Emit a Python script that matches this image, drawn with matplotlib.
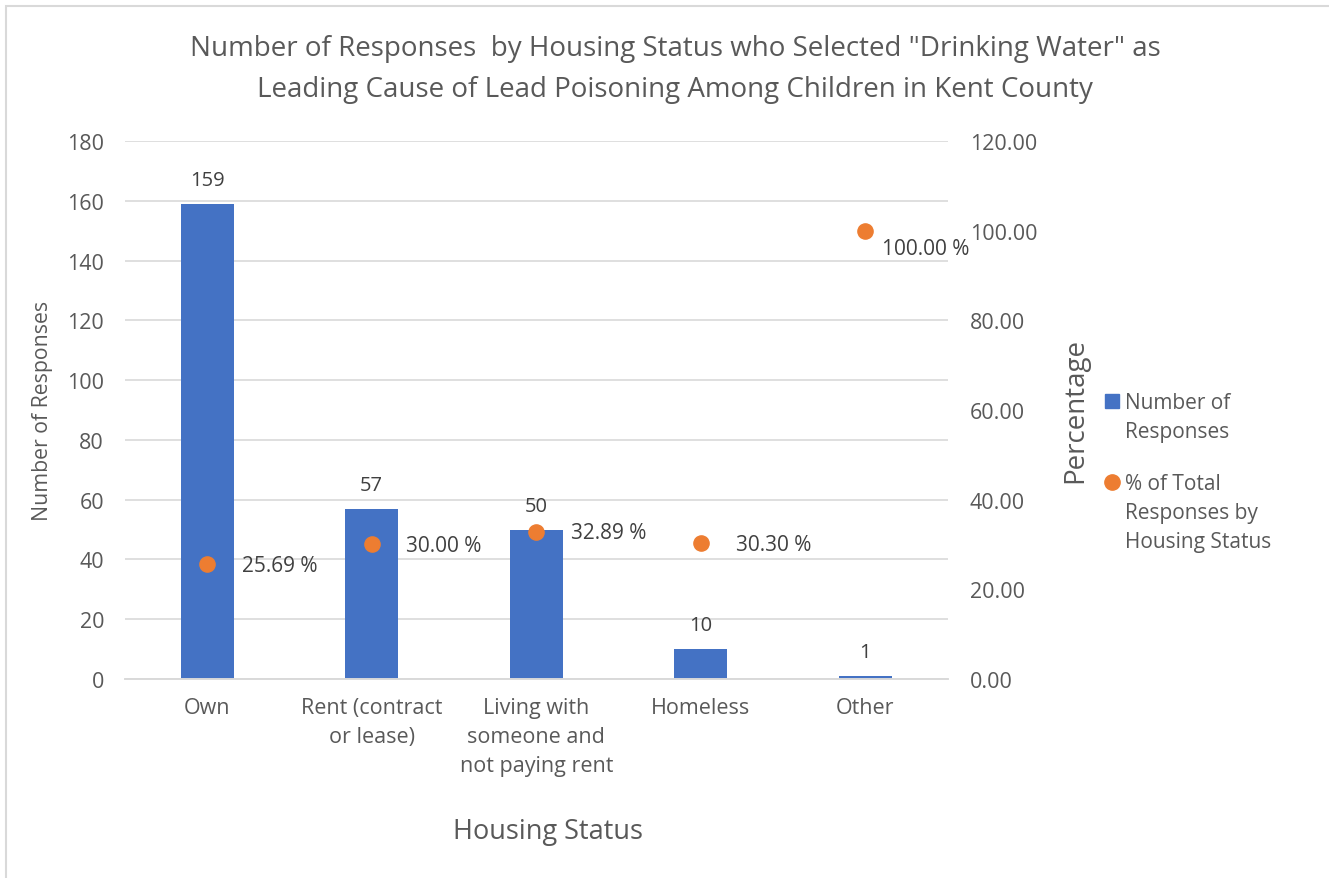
import matplotlib.pyplot as plt
import matplotlib.patches as mpatches
from matplotlib.lines import Line2D

categories = ["Own", "Rent (contract\nor lease)", "Living with\nsomeone and\nnot paying rent",
              "Homeless", "Other"]
responses = [159, 57, 50, 10, 1]
pct_of_total = [25.69, 30.00, 32.89, 30.30, 100.00]
legend_labels = ["Number of\nResponses", "% of Total\nResponses by\nHousing Status"]

BLUE = "#4472c4"
ORANGE = "#ed7d31"
TEXT = "#595959"
GRID = "#d9d9d9"

plt.rcParams["font.family"] = ["Open Sans", "DejaVu Sans"]

W, H = 1329, 879
fig = plt.figure(figsize=(W / 100, H / 100), dpi=100)
ax = fig.add_axes([0.094, 0.2264, 0.619, 0.6121])
ax2 = ax.twinx()

x = range(len(categories))
bars = ax.bar(x, responses, width=0.32, color=BLUE, zorder=2)
ax.set_xlim(-0.5, len(categories) - 0.5)
ax.set_ylim(0, 180)
ax.set_yticks(range(0, 181, 20))
ax.grid(axis="y", color=GRID, linewidth=1.2, zorder=0)
ax.set_axisbelow(True)

for bar, v in zip(bars, responses):
    ax.annotate(str(v), (bar.get_x() + bar.get_width() / 2, v),
                xytext=(0, 17), textcoords="offset points",
                ha="center", va="center", fontsize=14.5, color="#404040")

ax2.scatter(x, pct_of_total, s=120, color=ORANGE, zorder=3)
ax2.set_ylim(0, 120)
ax2.set_yticks(range(0, 121, 20))
ax2.set_yticklabels([f"{t:.2f}" for t in range(0, 121, 20)])
for i, p in enumerate(pct_of_total):
    dx, dy = (12, -13) if p >= 100 else (25, -1)
    ax2.annotate(f"{p:.2f} %", (i, p), xytext=(dx, dy), textcoords="offset points",
                 ha="left", va="center", fontsize=15, color="#404040")

for a in (ax, ax2):
    for side in ("top", "left", "right"):
        a.spines[side].set_visible(False)
    a.spines["bottom"].set_color(GRID)
    a.spines["bottom"].set_linewidth(1.2)
    a.tick_params(length=0, labelsize=15.5, labelcolor=TEXT)

ax.tick_params(axis="y", pad=15)
ax2.tick_params(axis="y", pad=16)
ax.set_xticks(list(x))
ax.set_xticklabels(categories, va="top", linespacing=1.5)
ax.tick_params(axis="x", pad=13)

ax.set_ylabel("Number of Responses", fontsize=15.3, color=TEXT, labelpad=10)
ax2.set_ylabel("Percentage", fontsize=20, color=TEXT, labelpad=17)
ax.set_xlabel("Housing Status", fontsize=19.5, color=TEXT)
ax.xaxis.set_label_coords(0.514, -0.256)

fig.text(0.508, 0.921, 'Number of Responses  by Housing Status who Selected "Drinking Water" as\n'
         'Leading Cause of Lead Poisoning Among Children in Kent County',
         ha="center", va="center", fontsize=20, color=TEXT, linespacing=1.6)

# legend: marker sits beside the first line of each label
markers = [("s", BLUE, 10), ("o", ORANGE, 11)]
for (mk, col, ms), label, y_px in zip(markers, legend_labels, [402, 483]):
    fig.add_artist(Line2D([1112 / W], [1 - y_px / H], marker=mk, markersize=ms,
                          color=col, linestyle="none", transform=fig.transFigure))
    fig.text(1125 / W, 1 - (y_px - 9) / H, label, ha="left", va="top", fontsize=15,
             color=TEXT, linespacing=1.5, transform=fig.transFigure)

# light frame around the chart area
fig.add_artist(mpatches.Rectangle((6 / W, -0.05), 1.1, 1 - 7 / H + 0.05,
                                  transform=fig.transFigure, fill=False,
                                  edgecolor=GRID, linewidth=1.5))

fig.savefig("out.png", dpi=100)
